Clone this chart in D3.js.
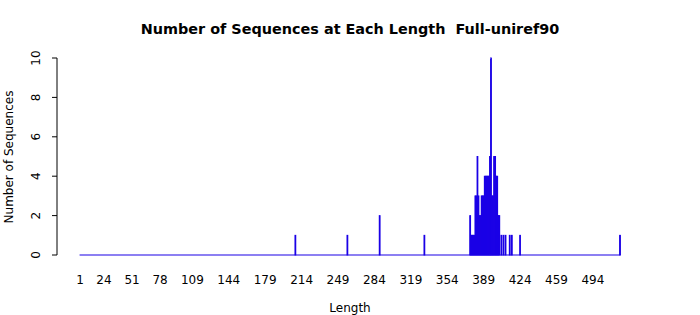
<!DOCTYPE html>
<html>
<head>
<meta charset="utf-8">
<script src="https://cdn.jsdelivr.net/npm/d3@7"></script>
<style>
  body { margin: 0; background: #fff; }
  svg { display: block; font-family: "DejaVu Sans", sans-serif; }
</style>
</head>
<body>
<svg id="chart" width="700" height="315"></svg>
<script>
// lengths run 1..maxLength, only non-zero counts listed
const maxLength = 520;
const lengths = [208, 258, 289, 332,
  376, 377, 378, 379, 380, 381, 382, 383, 384, 385, 386, 387, 388, 389, 390,
  391, 392, 393, 394, 395, 396, 397, 398, 399, 400, 401, 402, 403, 404,
  406, 408, 410, 414, 416, 424, 520];
const counts = [1, 1, 2, 1,
  2, 1, 1, 1, 1, 3, 3, 5, 3, 2, 2, 3, 3, 3, 4,
  4, 4, 4, 4, 5, 10, 3, 3, 5, 5, 4, 4, 2, 2,
  1, 1, 1, 1, 1, 1, 1];
const xTickLabels = [1, 24, 51, 78, 109, 144, 179, 214, 249, 284, 319, 354, 389, 424, 459, 494];
const yTicks = [0, 2, 4, 6, 8, 10];

const svg = d3.select('#chart');
const barColor = '#1a00e6';

const x = d3.scaleLinear().domain([1, maxLength]).range([80, 620]);
const y = d3.scaleLinear().domain([0, 10]).range([255, 58]);
const step = x(2) - x(1);
const barW = step / 1.2;

// title (keeps the double space)
svg.append('text')
  .attr('x', 350).attr('y', 34)
  .attr('text-anchor', 'middle')
  .style('white-space', 'pre')
  .style('font-weight', 'bold').style('font-size', '14.4px')
  .text('Number of Sequences at Each Length  Full-uniref90');

// zero-height bars show up as a line along the baseline
svg.append('line')
  .attr('x1', x(1) - barW / 2).attr('x2', x(maxLength) + barW / 2)
  .attr('y1', y(0)).attr('y2', y(0))
  .attr('stroke', barColor).attr('stroke-width', 1.2);

const data = lengths.map((l, i) => ({ len: l, n: counts[i] }));

svg.append('g').selectAll('rect')
  .data(data)
  .enter()
  .append('rect')
  .attr('x', d => x(d.len) - barW / 2)
  .attr('y', d => y(d.n))
  .attr('width', barW)
  .attr('height', d => y(0) - y(d.n))
  .attr('fill', barColor)
  .attr('stroke', barColor)
  .attr('stroke-width', 0.9);

// y axis, R style (no overhang, rotated labels)
const yAxis = svg.append('g').attr('transform', 'translate(57,0)');
yAxis.append('line')
  .attr('x1', 0).attr('x2', 0)
  .attr('y1', y(0)).attr('y2', y(10))
  .attr('stroke', '#000');
yAxis.selectAll('.tick')
  .data(yTicks)
  .enter()
  .append('line')
  .attr('x1', -5).attr('x2', 0)
  .attr('y1', d => y(d)).attr('y2', d => y(d))
  .attr('stroke', '#000');
yAxis.selectAll('.lbl')
  .data(yTicks)
  .enter()
  .append('text')
  .attr('transform', d => `translate(-17,${y(d)}) rotate(-90)`)
  .attr('text-anchor', 'middle')
  .style('font-size', '12px')
  .text(d => d);

// x tick labels (no axis line)
svg.append('g').selectAll('text')
  .data(xTickLabels)
  .enter()
  .append('text')
  .attr('x', d => x(d)).attr('y', 284)
  .attr('text-anchor', 'middle')
  .style('font-size', '12px')
  .text(d => d);

svg.append('text')
  .attr('x', 350).attr('y', 312)
  .attr('text-anchor', 'middle')
  .style('font-size', '12px')
  .text('Length');

svg.append('text')
  .attr('transform', 'translate(13,157) rotate(-90)')
  .attr('text-anchor', 'middle')
  .style('font-size', '12px')
  .text('Number of Sequences');
</script>
</body>
</html>
